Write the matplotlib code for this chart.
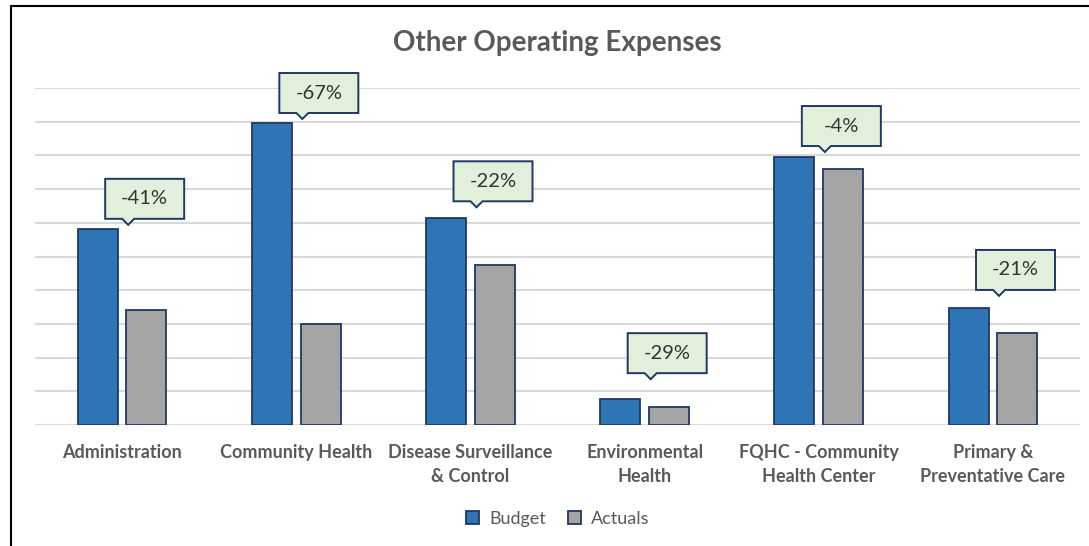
"""Other Operating Expenses — Budget vs Actuals grouped bar chart with variance callouts."""

import matplotlib
matplotlib.use("Agg")
import matplotlib.pyplot as plt
import matplotlib.transforms as mtransforms
import numpy as np
from matplotlib.patches import Polygon, Rectangle

# ── Data ──────────────────────────────────────────────────────────────────────
categories = [
    "Administration",
    "Community Health",
    "Disease Surveillance\n& Control",
    "Environmental\nHealth",
    "FQHC - Community\nHealth Center",
    "Primary &\nPreventative Care",
]
budget = [5.82, 8.96, 6.14, 0.76, 7.95, 3.47]
actuals = [3.40, 3.00, 4.76, 0.54, 7.60, 2.73]
variance_labels = ["-41%", "-67%", "-22%", "-29%", "-4%", "-21%"]

# callout lift above the budget bar (y units), as laid out in the original
callout_lift = [0.12, 0.12, 0.32, 0.60, 0.15, 0.36]

BLUE = "#2E75B6"
GREY = "#A5A5A5"
EDGE = "#1F3864"
TEXT = "#595959"
FONT = "Lato"

plt.rcParams["font.family"] = [FONT, "DejaVu Sans"]

fig = plt.figure(figsize=(10.89, 5.46), dpi=100)
ax = fig.add_axes([35 / 1089, 1 - 425 / 546, 1045 / 1089, 337 / 546])

x = np.arange(len(categories))
w = 0.23
off = 0.14
ax.bar(x - off, budget, w, color=BLUE, edgecolor=EDGE, linewidth=1.3,
       label="Budget", zorder=3)
ax.bar(x + off, actuals, w, color=GREY, edgecolor=EDGE, linewidth=1.3,
       label="Actuals", zorder=3)

ax.set_xlim(-0.5, len(categories) - 0.5)
ax.set_ylim(0, 10)
ax.set_yticks(np.arange(0, 11, 1))
ax.yaxis.grid(True, color="#D9D9D9", linewidth=1.5, zorder=0)
ax.tick_params(axis="y", left=False, labelleft=False)
ax.tick_params(axis="x", bottom=False, pad=10)
ax.set_xticks(x)
ax.set_xticklabels(categories, fontsize=13, fontweight="bold", color=TEXT,
                   linespacing=1.55, va="top")
for s in ax.spines.values():
    s.set_visible(False)
ax.set_axisbelow(True)

# ── Callouts ──────────────────────────────────────────────────────────────────
shape = [(0, 0), (-6, 6), (-23, 6), (-23, 46), (56, 46), (56, 6), (6, 6)]
for xi, b, lift, lab in zip(x, budget, callout_lift, variance_labels):
    anchor = mtransforms.ScaledTranslation(xi + 0.035, b + lift, ax.transData)
    tr = mtransforms.Affine2D() + anchor
    ax.add_patch(Polygon(shape, closed=True, transform=tr, facecolor="#E2EFDA",
                         edgecolor=EDGE, linewidth=1.4, zorder=5, clip_on=False))
    ax.text(16.5, 26, lab, transform=tr, ha="center", va="center",
            fontsize=14.5, color="#333333", zorder=6)

# ── Title, legend, frame ──────────────────────────────────────────────────────
fig.text(557 / 1089, 1 - 43 / 546, "Other Operating Expenses", ha="center",
         va="center", fontsize=20, fontweight="bold", color=TEXT)

fig.legend(loc="center", bbox_to_anchor=(558 / 1089, 1 - 519 / 546), ncol=2,
           frameon=False, fontsize=13, labelcolor=TEXT, handlelength=0.7,
           handleheight=0.7, columnspacing=1.2, handletextpad=0.6)

fig.patches.append(Rectangle((11 / 1089, -0.1), 1.2, 1 - 6 / 546 + 0.1,
                             transform=fig.transFigure, fill=False,
                             edgecolor="black", linewidth=1.5))

fig.savefig("out.png", dpi=100)
